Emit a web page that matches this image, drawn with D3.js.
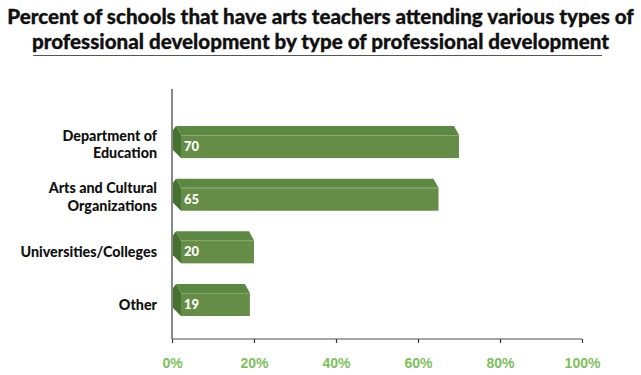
<!DOCTYPE html>
<html>
<head>
<meta charset="utf-8">
<script src="https://cdn.jsdelivr.net/npm/d3@7"></script>
<style>
  body { margin: 0; background: #fff; }
  svg { display: block; font-family: Lato, "Open Sans", sans-serif; }
  .title { font-weight: 900; font-size: 20.6px; fill: #111; }
  .cat-label { font-weight: 900; font-size: 14.3px; fill: #111; }
  .value-label { font-weight: 900; font-size: 13px; fill: #fff; }
  .x-axis text { font-weight: 900; font-size: 14px; fill: #7dbf5c; }
</style>
</head>
<body>
<div id="chart"></div>
<script>
const categories = [
  ['Department of', 'Education'],
  ['Arts and Cultural', 'Organizations'],
  ['Universities/Colleges'],
  ['Other']
];
const values = [70, 65, 20, 19];
const tickValues = [0, 20, 40, 60, 80, 100];
const titleLines = [
  'Percent of schools that have arts teachers attending various types of',
  'professional development by type of professional development'
];

const width = 641;
const height = 375;
const margin = { top: 89, right: 59, bottom: 36, left: 172 };

const svg = d3.select('#chart').append('svg')
  .attr('width', width)
  .attr('height', height);

// title
svg.selectAll('.title')
  .data(titleLines)
  .enter().append('text')
  .attr('class', 'title')
  .attr('x', width / 2)
  .attr('y', (d, i) => 24 + i * 25)
  .attr('text-anchor', 'middle')
  .style('stroke', '#111')
  .style('stroke-width', 0.3)
  .text(d => d);

svg.append('line')
  .attr('x1', 33).attr('x2', 602)
  .attr('y1', 55.5).attr('y2', 55.5)
  .style('stroke', '#555')
  .style('stroke-width', 1);

const x = d3.scaleLinear()
  .domain([0, 100])
  .range([margin.left, width - margin.right]);

const y = d3.scaleBand()
  .domain(d3.range(categories.length))
  .range([126, 316])
  .paddingInner(0.39)
  .paddingOuter(0);

const plotBottom = height - margin.bottom;

// x axis
const xAxis = svg.append('g')
  .attr('class', 'x-axis')
  .attr('transform', `translate(0, ${plotBottom})`)
  .call(d3.axisBottom(x).tickValues(tickValues).tickSize(4).tickPadding(15)
    .tickFormat(d => d + '%'));
xAxis.select('.domain').style('stroke', '#888').style('stroke-width', 1.5)
  .attr('d', `M${x(0)},0H${x(100)}`);
xAxis.selectAll('.tick line').style('stroke', '#333').style('stroke-width', 1.2);

// y axis line
svg.append('line')
  .attr('x1', x(0)).attr('x2', x(0))
  .attr('y1', margin.top).attr('y2', plotBottom)
  .style('stroke', '#888')
  .style('stroke-width', 2);

// bars, drawn as faux 3d boxes
const depthX = 5;
const depthY = 9;
const sideW = 8;

const bars = svg.selectAll('.bar')
  .data(values)
  .enter().append('g')
  .attr('class', 'bar');

bars.each(function barEnter(d, i) {
  const g = d3.select(this);
  const top = y(i) + depthY;
  const bottom = y(i) + y.bandwidth();
  const left = x(0) + sideW + 1;
  const right = x(d);

  // top face
  g.append('path')
    .attr('d', `M${left},${top}L${left - depthX},${top - depthY}L${right - depthX},${top - depthY}L${right},${top}Z`)
    .style('fill', '#5b8843');

  // left side face
  g.append('path')
    .attr('d', `M${left - depthX},${top - depthY}L${left},${top}L${left},${bottom}L${x(0) + 1},${bottom - depthY + 1}L${x(0) + 1},${top - depthY + 4}Z`)
    .style('fill', '#46712f');

  // front face
  g.append('rect')
    .attr('x', left)
    .attr('y', top)
    .attr('width', right - left)
    .attr('height', bottom - top)
    .style('fill', '#658d47');

  // highlight edge
  g.append('line')
    .attr('x1', left).attr('x2', right)
    .attr('y1', top + 0.5).attr('y2', top + 0.5)
    .style('stroke', '#86aa6a')
    .style('stroke-width', 1);

  g.append('text')
    .attr('class', 'value-label')
    .attr('x', left + 3)
    .attr('y', (top + bottom) / 2)
    .attr('dy', '0.36em')
    .text(d);
});

// category labels
svg.selectAll('.cat-label')
  .data(categories)
  .enter().append('text')
  .attr('class', 'cat-label')
  .attr('text-anchor', 'end')
  .attr('x', x(0) - 15)
  .attr('y', (d, i) => y(i) + (y.bandwidth() + depthY) / 2 - (d.length - 1) * 11)
  .each(function catEnter(d) {
    d3.select(this).selectAll('tspan')
      .data(d)
      .enter().append('tspan')
      .attr('x', x(0) - 15)
      .attr('dy', (t, j) => j === 0 ? '0.36em' : '1.22em')
      .text(t => t);
  });
</script>
</body>
</html>
